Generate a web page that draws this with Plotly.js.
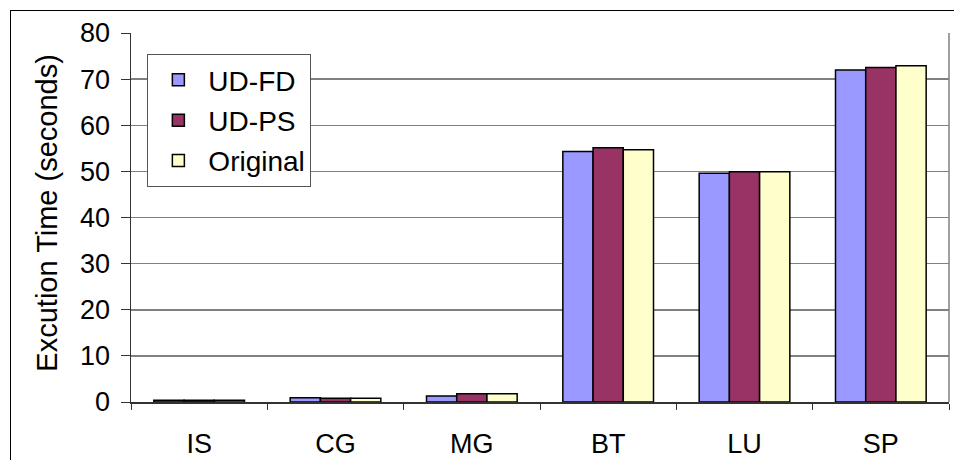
<!DOCTYPE html>
<html>
<head>
<meta charset="utf-8">
<script src="https://cdn.plot.ly/plotly-3.0.1.min.js"></script>
<style>
  html, body { margin: 0; padding: 0; background: #fff; overflow: hidden; }
  #wrap { position: relative; width: 954px; height: 460px; }
  #chart { position: absolute; left: 0; top: 0; width: 954px; height: 460px; }
  #frame { position: absolute; left: 10px; top: 10px; width: 960px; height: 470px; border: 1px solid #000; pointer-events: none; }
</style>
</head>
<body>
<div id="wrap">
  <div id="chart"></div>
  <div id="frame"></div>
</div>
<script>
const categories = ["IS", "CG", "MG", "BT", "LU", "SP"];
const udFd = [0.4, 0.9, 1.3, 54.3, 49.6, 72.0];
const udPs = [0.4, 0.8, 1.8, 55.1, 49.9, 72.5];
const original = [0.4, 0.8, 1.8, 54.7, 49.9, 72.9];
const seriesNames = ["UD-FD", "UD-PS", "Original"];
const seriesColors = ["#9999FF", "#993366", "#FFFFCC"];
const yTitle = "Excution Time (seconds)";

const seriesValues = [udFd, udPs, original];
const traces = seriesValues.map((vals, i) => ({
  type: "bar",
  name: seriesNames[i],
  x: categories,
  y: vals,
  legendgroup: "g" + i,
  marker: { color: seriesColors[i], line: { color: "#000", width: 1.5 } },
  hoverinfo: "x+y+name"
}));

const layout = {
  width: 954,
  height: 460,
  margin: { l: 131, r: 5, t: 33, b: 58 },
  paper_bgcolor: "#fff",
  plot_bgcolor: "#fff",
  font: { family: "Liberation Sans, Arial, sans-serif", color: "#000", size: 27 },
  barmode: "group",
  bargap: 0.335,
  bargroupgap: 0,
  showlegend: true,
  legend: {
    x: 0.02, y: 0.943, xanchor: "left", yanchor: "top",
    bgcolor: "#fff", bordercolor: "#555", borderwidth: 1,
    font: { size: 28, color: "#000" },
    traceorder: "grouped",
    tracegroupgap: 1,
    itemwidth: 50
  },
  xaxis: {
    type: "category",
    showline: true, linecolor: "#333", linewidth: 1.5,
    ticks: "outside", tickson: "boundaries", ticklen: 6, tickcolor: "#333",
    showgrid: false,
    tickfont: { size: 27 },
    ticklabelstandoff: 17
  },
  yaxis: {
    range: [0, 80], dtick: 10,
    showline: true, linecolor: "#333", linewidth: 1.5,
    ticks: "outside", ticklen: 9, tickcolor: "#333",
    gridcolor: "#808080", gridwidth: 1.5,
    zeroline: false,
    tickfont: { size: 27 },
    ticklabelstandoff: 5
  },
  shapes: [
    { type: "line", xref: "paper", yref: "paper", x0: 1, x1: 1, y0: 0, y1: 1,
      line: { color: "#808080", width: 1.5 }, layer: "below" }
  ],
  annotations: [
    { text: yTitle, textangle: -90, xref: "paper", yref: "paper",
      x: -0.102, y: 0.512, xanchor: "center", yanchor: "middle",
      showarrow: false, font: { size: 29, color: "#000" } }
  ]
};

Plotly.newPlot("chart", traces, layout, { displayModeBar: false, staticPlot: true });
</script>
</body>
</html>
